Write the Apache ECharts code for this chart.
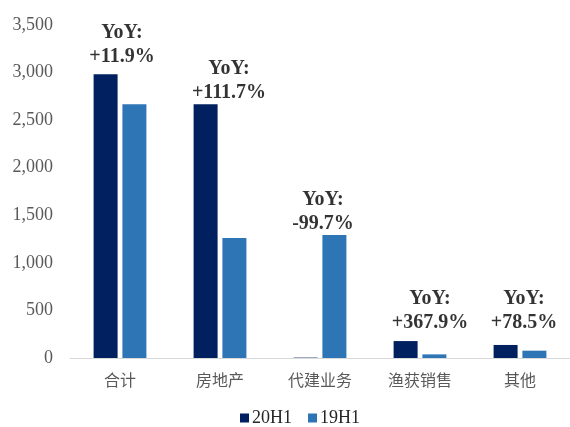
<!DOCTYPE html>
<html>
<head>
<meta charset="utf-8">
<script src="https://cdn.jsdelivr.net/npm/echarts@6/dist/echarts.min.js"></script>
<style>
  html, body { margin: 0; padding: 0; background: #ffffff; }
  #chart { width: 570px; height: 427px; }
</style>
</head>
<body>
<div id="chart"></div>
<script>
// Revenue by segment, 20H1 vs 19H1
const categories = ['合计', '房地产', '代建业务', '渔获销售', '其他'];
const h12020 = [2983, 2667, 4, 178, 137];
const h12019 = [2666, 1260, 1292, 38, 77];
const yoyText = ['+11.9%', '+111.7%', '-99.7%', '+367.9%', '+78.5%'];
const yTicks = [0, 500, 1000, 1500, 2000, 2500, 3000, 3500];

// nudges for the YoY callouts (pixels, x then y)
const calloutNudge = [[2, -5], [9, 1], [3, 1], [10, -6], [4, -10]];

const serif = '"Liberation Serif", "Times New Roman", serif';
const cjk = '"Noto Sans CJK SC", sans-serif';

const callouts = categories.map((c, i) => ({
  value: Math.max(h12020[i], h12019[i]),
  label: {
    formatter: 'YoY:\n' + yoyText[i],
    offset: calloutNudge[i]
  }
}));

const chart = echarts.init(document.getElementById('chart'));
chart.setOption({
  animation: false,
  backgroundColor: '#ffffff',
  grid: { left: 70, right: 0, top: 25, bottom: 69, containLabel: false },
  legend: {
    data: ['20H1', '19H1'],
    left: 235,
    top: 404,
    icon: 'rect',
    itemWidth: 9,
    itemHeight: 9,
    itemGap: 16,
    textStyle: { fontFamily: serif, fontSize: 18, color: '#262626', padding: [0, 0, 0, -2] }
  },
  xAxis: {
    type: 'category',
    data: categories,
    axisLine: { lineStyle: { color: '#D9D9D9', width: 1 } },
    axisTick: { show: false },
    axisLabel: { fontFamily: cjk, fontSize: 16, color: '#595959', margin: 14 }
  },
  yAxis: {
    type: 'value',
    min: yTicks[0],
    max: yTicks[yTicks.length - 1],
    interval: yTicks[1] - yTicks[0],
    splitLine: { show: false },
    axisLine: { show: false },
    axisTick: { show: false },
    axisLabel: {
      fontFamily: serif,
      fontSize: 18,
      color: '#595959',
      margin: 17,
      formatter: v => v.toLocaleString('en-US')
    }
  },
  series: [
    {
      name: '20H1',
      type: 'bar',
      data: h12020,
      barWidth: 24,
      barGap: '20%',
      itemStyle: { color: '#002060' }
    },
    {
      name: '19H1',
      type: 'bar',
      data: h12019,
      barWidth: 24,
      itemStyle: { color: '#2E75B6' }
    },
    {
      name: 'YoY',
      type: 'scatter',
      data: callouts,
      symbol: 'circle',
      symbolSize: 1,
      itemStyle: { color: 'rgba(0,0,0,0)' },
      silent: true,
      label: {
        show: true,
        position: 'top',
        distance: 0,
        align: 'center',
        fontFamily: serif,
        fontSize: 20,
        fontWeight: 'bold',
        lineHeight: 24,
        color: '#000000'
      }
    }
  ]
});
</script>
</body>
</html>
